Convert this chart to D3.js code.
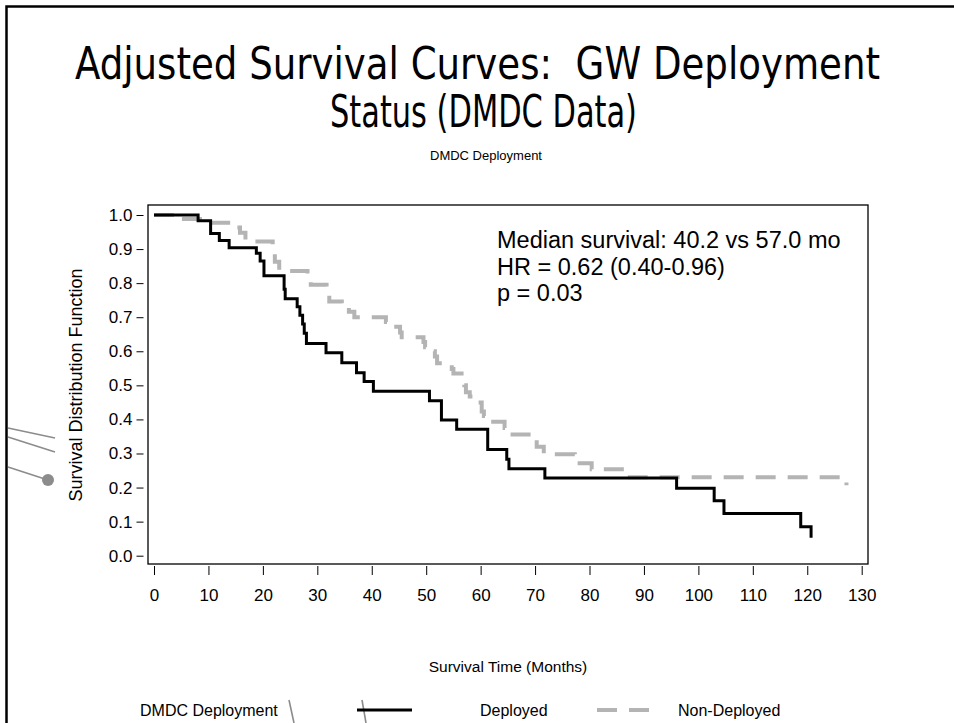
<!DOCTYPE html>
<html>
<head>
<meta charset="utf-8">
<script src="https://cdn.jsdelivr.net/npm/d3@7"></script>
<style>
  body { margin: 0; background: #fff; }
  svg { display: block; }
</style>
</head>
<body>
<div id="container"></div>
<script>
// Kaplan-Meier style step data (time in months, survival)
var deployedTime = [0, 8.1, 10.4, 12.0, 13.8, 18.8, 19.5, 20.2, 23.9, 24.1, 26.3, 26.8, 27.3, 27.6, 28.0,
    31.6, 34.5, 37.2, 38.6, 40.3, 50.6, 52.8, 55.6, 61.3, 64.8, 65.2, 71.8, 96.0, 102.9, 104.7, 118.8, 120.7];
var deployedSurv = [1.0, 0.983, 0.946, 0.925, 0.904, 0.888, 0.865, 0.822, 0.782, 0.754, 0.731, 0.706, 0.68, 0.653, 0.623,
    0.596, 0.566, 0.537, 0.511, 0.483, 0.455, 0.398, 0.371, 0.312, 0.283, 0.255, 0.228, 0.198, 0.161, 0.124, 0.085, 0.053];

var nonDeployedTime = [0, 3.9, 9.5, 14.8, 15.8, 16.8, 21.8, 22.2, 23.0, 28.2, 28.8, 31.7, 32.2, 34.5, 35.8, 36.8,
    42.6, 43.0, 45.2, 45.5, 49.5, 49.8, 51.0, 51.6, 52.0, 54.7, 55.0, 56.5, 57.0, 57.3, 58.0, 59.5, 60.2, 60.6,
    61.4, 64.4, 64.5, 70.3, 71.6, 77.3, 77.6, 80.4, 86.8, 87.4, 127.2];
var nonDeployedSurv = [1.0, 0.988, 0.977, 0.963, 0.948, 0.922, 0.899, 0.863, 0.836, 0.82, 0.795, 0.772, 0.746, 0.73, 0.716, 0.70,
    0.686, 0.672, 0.655, 0.641, 0.627, 0.612, 0.60, 0.585, 0.565, 0.548, 0.535, 0.52, 0.50, 0.48, 0.467, 0.45, 0.423, 0.41,
    0.393, 0.375, 0.356, 0.32, 0.298, 0.28, 0.271, 0.254, 0.24, 0.23, 0.207];

var xTicks = [0, 10, 20, 30, 40, 50, 60, 70, 80, 90, 100, 110, 120, 130];
var yTicks = [0, 0.1, 0.2, 0.3, 0.4, 0.5, 0.6, 0.7, 0.8, 0.9, 1.0];

var titleLines = ["Adjusted Survival Curves:  GW Deployment", "Status (DMDC Data)"];
var noteLines = ["Median survival: 40.2 vs 57.0 mo", "HR = 0.62 (0.40-0.96)", "p = 0.03"];

var svgWidth = 954, svgHeight = 723;
var sasFont = "'Liberation Sans', Arial, sans-serif";

var svg = d3.select("div#container")
    .append("svg")
    .attr("width", svgWidth)
    .attr("height", svgHeight);

// slide border (top + left visible)
svg.append("path")
    .attr("d", "M6.5,723 L6.5,6.5 L954,6.5")
    .attr("fill", "none")
    .attr("stroke", "#000")
    .attr("stroke-width", 2.5);

// slide template decorations
var deco = svg.append("g").attr("stroke", "#8c8c8c").attr("stroke-width", 1.6).attr("fill", "none");
deco.append("path").attr("d", "M8,428 L55,438");
deco.append("path").attr("d", "M8,437 L55,452");
deco.append("path").attr("d", "M8,467 L48,480");
svg.append("circle").attr("cx", 48).attr("cy", 480).attr("r", 6).attr("fill", "#8c8c8c");
deco.append("path").attr("d", "M289,700 L294,723");
deco.append("path").attr("d", "M362,700 L366,723");

// title
var titleBase = [79, 127];
var titleWidth = [805, 307];
var titleCenter = [477.5, 483.5];
titleLines.forEach(function (t, i) {
    svg.append("text")
        .attr("x", titleCenter[i] - titleWidth[i] / 2)
        .attr("y", titleBase[i])
        .attr("textLength", titleWidth[i])
        .attr("lengthAdjust", "spacingAndGlyphs")
        .style("white-space", "pre")
        .style("font-family", "'DejaVu Sans Condensed', 'DejaVu Sans', sans-serif")
        .style("font-stretch", "condensed")
        .style("font-size", "44px")
        .style("fill", "#000")
        .text(t);
});

svg.append("text")
    .attr("x", 486)
    .attr("y", 160)
    .attr("text-anchor", "middle")
    .style("font-family", sasFont)
    .style("font-size", "13px")
    .text("DMDC Deployment");

// plot area
var frame = { left: 148, top: 205, right: 868, bottom: 564 };

var x = d3.scaleLinear().domain([0, 130]).range([154, 861.7]);
var y = d3.scaleLinear().domain([0, 1]).range([555.7, 215]);

svg.append("rect")
    .attr("x", frame.left)
    .attr("y", frame.top)
    .attr("width", frame.right - frame.left)
    .attr("height", frame.bottom - frame.top)
    .attr("fill", "none")
    .attr("stroke", "#000")
    .attr("stroke-width", 1.3);

// Y axis: ticks detached from frame
var yAxis = svg.append("g")
    .attr("transform", "translate(143.5,0)")
    .call(d3.axisLeft(y).tickValues(yTicks).tickFormat(d3.format(".1f")).tickSize(7).tickPadding(4));
yAxis.select(".domain").remove();
yAxis.selectAll("text").style("font-family", sasFont).style("font-size", "17px").attr("fill", "#000");

// X axis
var xAxis = svg.append("g")
    .attr("transform", "translate(0,566)")
    .call(d3.axisBottom(x).tickValues(xTicks).tickSize(9).tickPadding(14));
xAxis.select(".domain").remove();
xAxis.selectAll("text").style("font-family", sasFont).style("font-size", "17px").attr("fill", "#000");

// axis titles
svg.append("text")
    .attr("transform", "translate(82,385) rotate(-90)")
    .attr("text-anchor", "middle")
    .style("font-family", sasFont)
    .style("font-size", "18px")
    .text("Survival Distribution Function");

svg.append("text")
    .attr("x", 508)
    .attr("y", 672)
    .attr("text-anchor", "middle")
    .style("font-family", sasFont)
    .style("font-size", "15.5px")
    .text("Survival Time (Months)");

// curves
var line = d3.line()
    .x(function (d) { return x(d[0]); })
    .y(function (d) { return y(d[1]); })
    .curve(d3.curveStepAfter);

var grayData = nonDeployedTime.map(function (t, i) { return [t, nonDeployedSurv[i]]; });
var blackData = deployedTime.map(function (t, i) { return [t, deployedSurv[i]]; });

svg.append("path")
    .datum(grayData)
    .attr("d", line)
    .attr("fill", "none")
    .attr("stroke", "#b4b4b4")
    .attr("stroke-width", 4)
    .attr("stroke-dasharray", "20,12");

svg.append("path")
    .datum(blackData)
    .attr("d", line)
    .attr("fill", "none")
    .attr("stroke", "#000")
    .attr("stroke-width", 3);

// annotation
noteLines.forEach(function (t, i) {
    svg.append("text")
        .attr("x", 497)
        .attr("y", 248 + i * 26.5)
        .style("font-family", sasFont)
        .style("font-size", "23.5px")
        .text(t);
});

// legend
var legendY = 710;
var legend = svg.append("g").style("font-family", sasFont).style("font-size", "16px");
legend.append("text").attr("x", 140).attr("y", legendY + 6).text("DMDC Deployment");
legend.append("line").attr("x1", 357).attr("x2", 412).attr("y1", legendY).attr("y2", legendY)
    .attr("stroke", "#000").attr("stroke-width", 3);
legend.append("text").attr("x", 480).attr("y", legendY + 6).text("Deployed");
legend.append("line").attr("x1", 597).attr("x2", 650).attr("y1", legendY).attr("y2", legendY)
    .attr("stroke", "#b4b4b4").attr("stroke-width", 4).attr("stroke-dasharray", "20,12");
legend.append("text").attr("x", 678).attr("y", legendY + 6).text("Non-Deployed");
</script>
</body>
</html>
